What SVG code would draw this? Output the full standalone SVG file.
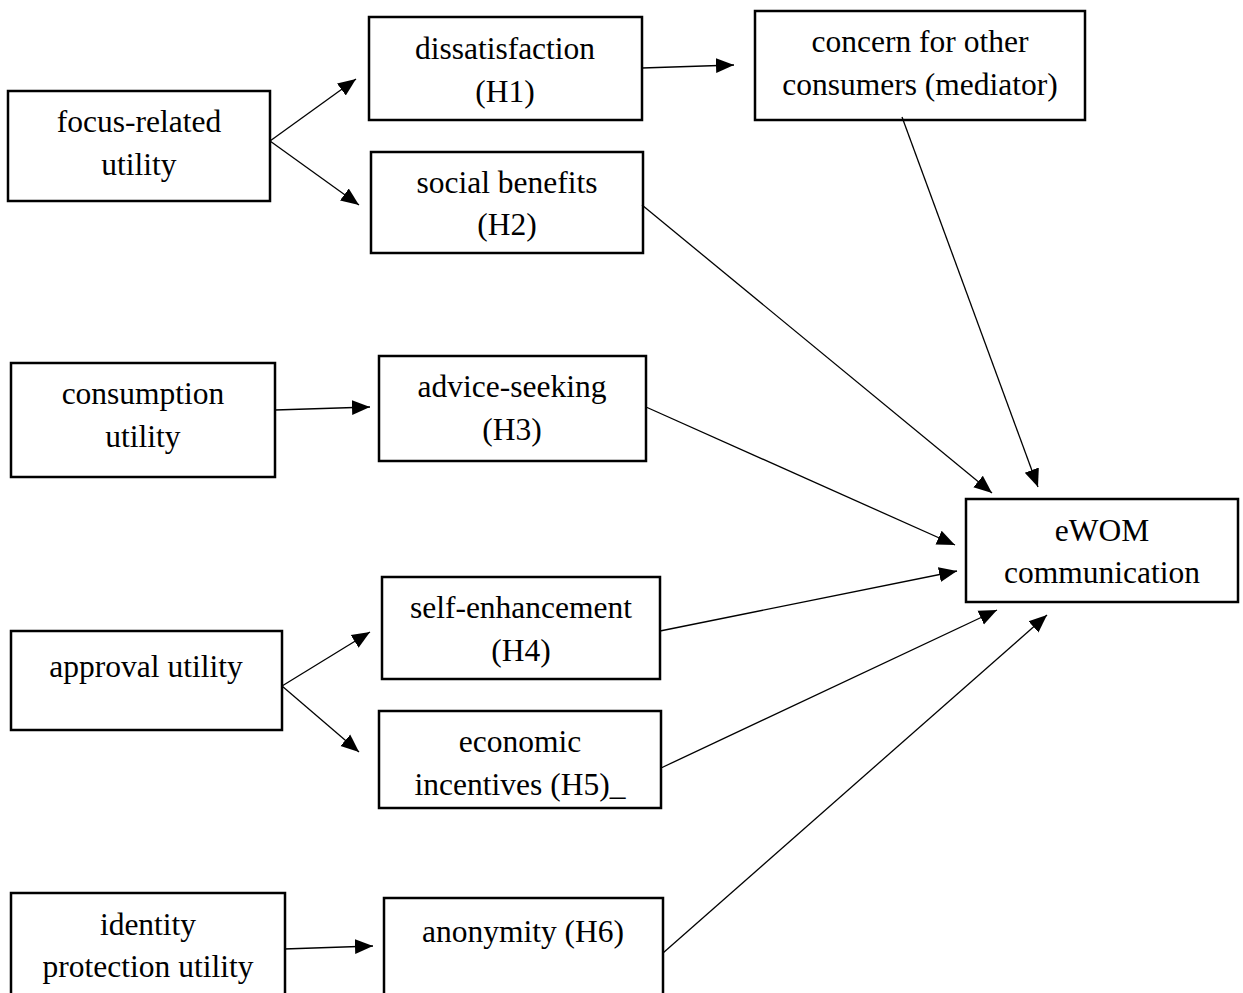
<svg xmlns="http://www.w3.org/2000/svg" width="1243" height="993" viewBox="0 0 1243 993">
<style>
.box{fill:#fff;stroke:#000;stroke-width:2.5}
.t{font-family:"Liberation Serif","Times New Roman",serif;font-size:31.5px;fill:#000;text-anchor:middle}
.c{stroke:#000;stroke-width:1.3;fill:none;marker-end:url(#ah)}
</style>
<defs>
<marker id="ah" markerUnits="userSpaceOnUse" markerWidth="19" markerHeight="17" refX="18" refY="7.5" orient="auto" viewBox="0 0 19 15">
<path d="M0,0 L18,7.5 L0,15 z" fill="#000"/>
</marker>
</defs>
<rect width="1243" height="993" fill="#fff"/>
<g id="focus"><rect class="box" x="8" y="91" width="262" height="110"/><text class="t" x="139" y="132">focus-related</text><text class="t" x="139" y="175">utility</text></g>
<g id="dissatisfaction"><rect class="box" x="369" y="17" width="273" height="103"/><text class="t" x="505" y="59">dissatisfaction</text><text class="t" x="505" y="102">(H1)</text></g>
<g id="concern"><rect class="box" x="755" y="11" width="330" height="109"/><text class="t" x="920" y="52">concern for other</text><text class="t" x="920" y="95">consumers (mediator)</text></g>
<g id="social"><rect class="box" x="371" y="152" width="272" height="101"/><text class="t" x="507" y="193">social benefits</text><text class="t" x="507" y="235">(H2)</text></g>
<g id="consumption"><rect class="box" x="11" y="363" width="264" height="114"/><text class="t" x="143" y="404">consumption</text><text class="t" x="143" y="447">utility</text></g>
<g id="advice"><rect class="box" x="379" y="356" width="267" height="105"/><text class="t" x="512" y="397">advice-seeking</text><text class="t" x="512" y="440">(H3)</text></g>
<g id="ewom"><rect class="box" x="966" y="499" width="272" height="103"/><text class="t" x="1102" y="541">eWOM</text><text class="t" x="1102" y="583">communication</text></g>
<g id="selfenh"><rect class="box" x="382" y="577" width="278" height="102"/><text class="t" x="521" y="618">self-enhancement</text><text class="t" x="521" y="661">(H4)</text></g>
<g id="approval"><rect class="box" x="11" y="631" width="271" height="99"/><text class="t" x="146" y="677">approval utility</text></g>
<g id="economic"><rect class="box" x="379" y="711" width="282" height="97"/><text class="t" x="520" y="752">economic</text><text class="t" x="520" y="795">incentives (H5)_</text></g>
<g id="identity"><rect class="box" x="11" y="893" width="274" height="110"/><text class="t" x="148" y="935">identity</text><text class="t" x="148" y="977">protection utility</text></g>
<g id="anonymity"><rect class="box" x="384" y="898" width="279" height="105"/><text class="t" x="523" y="942">anonymity (H6)</text></g>
<g id="connectors">
<line class="c" x1="270" y1="141" x2="356" y2="79"/>
<line class="c" x1="270" y1="141" x2="359" y2="205"/>
<line class="c" x1="642" y1="68" x2="734" y2="65"/>
<line class="c" x1="642" y1="205" x2="992" y2="493"/>
<line class="c" x1="902" y1="117" x2="1038" y2="487"/>
<line class="c" x1="275" y1="410" x2="370" y2="407"/>
<line class="c" x1="646" y1="407" x2="955" y2="545"/>
<line class="c" x1="660" y1="631" x2="957" y2="571"/>
<line class="c" x1="282" y1="686" x2="370" y2="632"/>
<line class="c" x1="282" y1="686" x2="359" y2="752"/>
<line class="c" x1="661" y1="768" x2="997" y2="610"/>
<line class="c" x1="663" y1="953" x2="1047" y2="615"/>
<line class="c" x1="284" y1="949" x2="373" y2="946"/>
</g>
</svg>
